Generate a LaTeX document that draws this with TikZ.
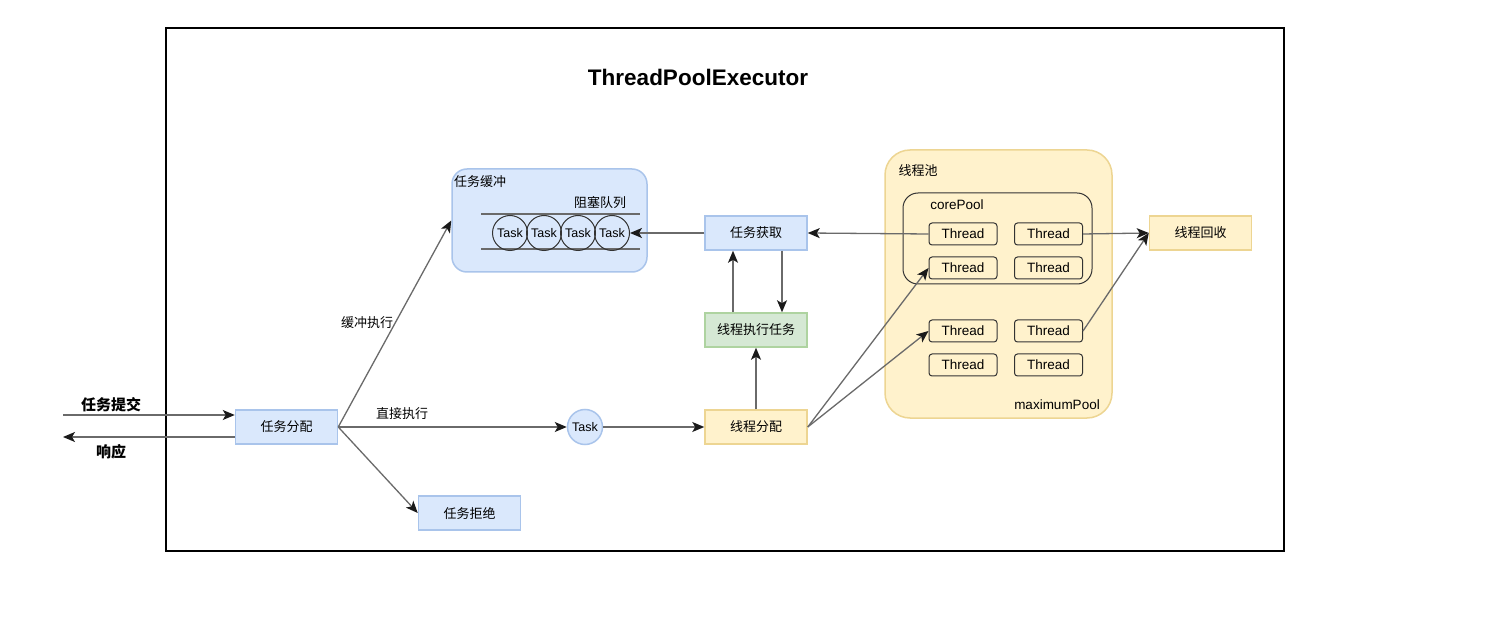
\documentclass[tikz,border=0pt]{standalone}
\usepackage{fontspec}
\setmainfont{Liberation Sans}
\newfontfamily\cjk{Noto Sans CJK SC}
\usetikzlibrary{arrows.meta}
\definecolor{bfill}{HTML}{DAE8FC}
\definecolor{bstroke}{HTML}{A9C4EB}
\definecolor{gfill}{HTML}{D5E8D4}
\definecolor{gstroke}{HTML}{AED3A0}
\definecolor{yfill}{HTML}{FFF2CC}
\definecolor{ystroke}{HTML}{EDD592}
\definecolor{lin}{HTML}{333333}
\definecolor{alin}{HTML}{6A6A6A}
\definecolor{tip}{HTML}{1A1A1A}
\begin{document}
\begin{tikzpicture}[x=1pt,y=-1pt,
  box/.style={draw, line width=1.5pt, minimum width=102pt, minimum height=34pt, inner sep=0pt, font=\cjk\fontsize{13}{15}\selectfont},
  blueb/.style={box, fill=bfill, draw=bstroke},
  greenb/.style={box, fill=gfill, draw=gstroke},
  yellowb/.style={box, fill=yfill, draw=ystroke},
  thr/.style={draw=lin, line width=1pt, rounded corners=3pt, minimum width=68pt, minimum height=22pt, inner sep=0pt, font=\fontsize{13.5}{15}\selectfont},
  tsk/.style={circle, draw=lin, line width=1pt, minimum size=35pt, inner sep=0pt, font=\fontsize{12.5}{14}\selectfont},
  lbl/.style={inner sep=0pt, font=\cjk\fontsize{13}{15}\selectfont},
  elbl/.style={inner sep=0pt, font=\fontsize{13.5}{15}\selectfont},
  arr/.style={draw=alin, line width=1.3pt, -{Stealth[length=12pt,width=10pt,inset=3pt,color=tip]}}
]
\useasboundingbox (0,0) rectangle (1499,617);
\fill[white] (0,0) rectangle (1499,617);
% frame
\node[draw, line width=2.5pt, minimum width=1118pt, minimum height=523pt, inner sep=0pt] (frame) at (725,289.5) {};
\node[inner sep=0pt, font=\bfseries\fontsize{22.5}{24}\selectfont] (title) at (698,77) {ThreadPoolExecutor};

% buffer
\node[draw=bstroke, fill=bfill, line width=1.5pt, rounded corners=15pt, minimum width=195pt, minimum height=103pt, inner sep=0pt] (buffer) at (549.5,220.5) {};
\node[lbl, anchor=north west] (bufl) at (454,175) {任务缓冲};
\node[lbl] (queuel) at (600,203) {阻塞队列};
\coordinate (qa) at (481,214);
\coordinate (qb) at (640,214);
\coordinate (qc) at (481,249);
\coordinate (qd) at (640,249);
\draw[alin, line width=1.5pt] (qa) -- (qb);
\draw[alin, line width=1.5pt] (qc) -- (qd);
\node[tsk] (t1) at (510,233) {Task};
\node[tsk] (t2) at (544,233) {Task};
\node[tsk] (t3) at (578,233) {Task};
\node[tsk] (t4) at (612,233) {Task};

% pool
\node[draw=ystroke, fill=yfill, line width=1.5pt, rounded corners=25pt, minimum width=227pt, minimum height=268pt, inner sep=0pt] (pool) at (998.5,284) {};
\node[lbl] (pooll) at (918,171) {线程池};
\node[elbl] (maxl) at (1057,405) {maximumPool};
\node[draw=lin, line width=1pt, rounded corners=15pt, minimum width=189pt, minimum height=91pt, inner sep=0pt] (core) at (997.5,238.5) {};
\node[elbl] (corel) at (957,205) {corePool};
\node[thr] (t11) at (963,234) {Thread};
\node[thr] (t12) at (1048.5,234) {Thread};
\node[thr] (t21) at (963,268) {Thread};
\node[thr] (t22) at (1048.5,268) {Thread};
\node[thr] (t31) at (963,331) {Thread};
\node[thr] (t32) at (1048.5,331) {Thread};
\node[thr] (t41) at (963,365) {Thread};
\node[thr] (t42) at (1048.5,365) {Thread};

% boxes
\node[blueb] (fenpei) at (286.5,427) {任务分配};
\node[blueb] (jujue) at (469.5,513) {任务拒绝};
\node[blueb] (huoqu) at (756,233) {任务获取};
\node[greenb] (zhixing) at (756,330) {线程执行任务};
\node[yellowb] (xfenpei) at (756,427) {线程分配};
\node[yellowb] (huishou) at (1200.5,233) {线程回收};
\node[tsk, draw=bstroke, fill=bfill, line width=1.5pt] (task) at (585,427) {Task};

% in / out
\coordinate (subin) at (63,415);
\coordinate (respout) at (63,437);
\draw[arr] (subin) -- (subin -| fenpei.west);
\draw[arr] (respout -| fenpei.west) -- (respout);
\node[lbl, font=\cjk\bfseries\fontsize{15}{17}\selectfont] (subl) at (111,405) {任务提交};
\node[lbl, font=\cjk\bfseries\fontsize{15}{17}\selectfont] (respl) at (111,452) {响应};

% arrows
\draw[arr] (fenpei.east) -- (buffer.west);
\draw[arr] (fenpei.east) -- (task.west);
\draw[arr] (fenpei.east) -- (jujue.west);
\node[lbl] (bufexec) at (367,323) {缓冲执行};
\node[lbl] (direxec) at (402,414) {直接执行};
\draw[arr] (task.east) -- (xfenpei.west);
\draw[arr] (xfenpei.north) -- (zhixing.south);
\draw[arr] ([xshift=-23pt]zhixing.north) -- ([xshift=-23pt]huoqu.south);
\draw[arr] ([xshift=26pt]huoqu.south) -- ([xshift=26pt]zhixing.north);
\draw[arr] (huoqu.west) -- (t4.east);
\draw[arr] (t11.west) -- (huoqu.east);
\draw[arr] (xfenpei.east) -- (t21.west);
\draw[arr] (xfenpei.east) -- (t31.west);
\draw[arr] (t12.east) -- (huishou.west);
\draw[arr] (t32.east) -- (huishou.west);
\end{tikzpicture}
\end{document}
